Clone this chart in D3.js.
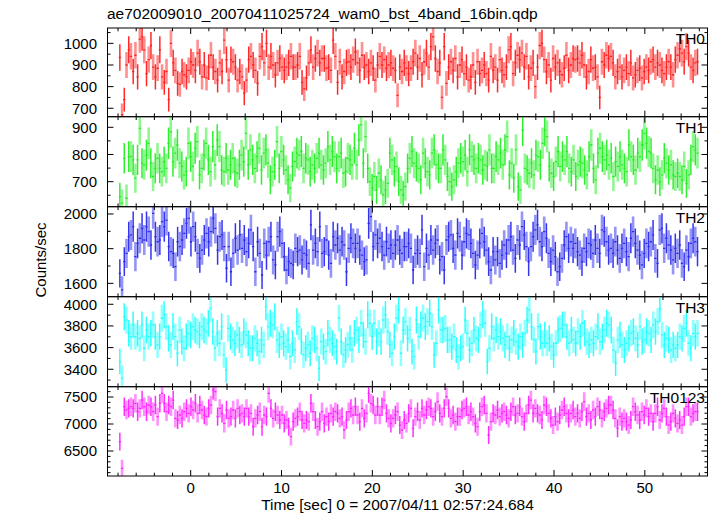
<!DOCTYPE html>
<html><head><meta charset="utf-8">
<script src="https://cdn.jsdelivr.net/npm/d3@7"></script>
<style>
body{margin:0;background:#fff;}
svg{display:block;}
text{font-family:"Liberation Sans",Arial,Helvetica,sans-serif;fill:#000;}
</style>
</head><body>
<svg id="chart" width="717" height="516"></svg>
<script>
const titleText = "ae702009010_20070411025724_wam0_bst_4band_16bin.qdp";
const xLabelText = "Time [sec] 0 = 2007/04/11 02:57:24.684";
const yLabelText = "Counts/sec";
const panelNames = ["TH0","TH1","TH2","TH3","TH0123"];
const panelColors = ["#ff1e1e","#22ee22","#2a2aee","#22ffff","#ff22ff"];
const tFirst = -7.8, tLast = 55.8, binTime = 0.25;
const xTicksMajor = [0,10,20,30,40,50];
const xDomain = [-9.16, 56.9];

const th0 = [935,670,740,900,970,940,870,945,845,1020,1030,970,860,925,990,890,845,885,970,845,820,870,740,1000,910,875,815,810,870,855,845,875,915,900,875,955,915,845,900,840,890,945,890,870,830,910,870,1015,925,830,925,915,890,830,870,845,770,830,925,940,900,875,815,940,985,910,1000,890,940,900,855,910,930,890,875,890,910,940,890,890,900,940,820,790,840,910,970,890,930,955,910,930,930,885,890,875,1015,940,820,915,845,870,910,915,890,925,960,910,875,945,890,900,870,910,885,830,900,940,900,925,885,900,910,885,875,760,890,870,910,885,860,885,915,955,890,
930,855,915,955,890,985,1030,930,870,910,750,985,815,890,915,875,930,845,900,925,860,890,830,845,900,820,915,860,875,900,860,830,940,875,890,830,925,875,855,890,970,985,860,910,945,925,955,890,940,845,885,910,800,890,990,1000,925,870,900,830,930,890,910,870,855,885,945,875,900,930,925,930,910,945,900,845,870,925,885,890,845,750,915,900,945,930,940,910,845,870,890,845,875,890,860,910,840,855,875,885,840,870,890,875,915,925,890,910,900,875,860,890,915,890,855,925,945,975,955,915,985,955,890,875,910,915];

const th1 = [645,621,786,639,792,792,780,713,780,896,768,762,798,841,768,719,749,786,749,737,774,749,841,884,774,805,835,768,756,725,737,841,792,756,823,847,725,749,798,841,780,737,829,762,853,829,743,737,786,743,762,786,737,731,762,798,774,878,762,817,780,749,792,823,743,805,817,768,707,737,762,847,749,811,780,743,707,676,756,774,805,798,811,749,786,780,737,762,749,786,805,762,743,768,829,780,811,792,749,792,805,731,737,786,780,762,823,762,853,909,768,866,749,700,676,719,670,731,707,652,670,694,805,780,737,756,700,670,652,682,749,786,811,768,756,
749,707,805,768,737,725,805,817,762,749,749,817,780,719,700,682,707,737,768,786,774,798,737,817,792,780,749,786,780,743,762,756,817,749,749,792,780,805,762,817,866,725,768,713,817,682,670,890,749,743,731,768,725,798,792,762,841,890,866,756,731,719,774,811,756,792,780,811,749,737,780,719,762,774,768,743,725,792,835,749,707,805,823,792,780,798,762,786,719,774,756,792,762,749,737,835,792,780,743,805,792,835,878,841,811,805,749,707,743,700,725,786,768,743,762,725,719,731,719,707,756,694,725,780,829,817,805];

const th2 = [1658,1562,1725,1773,1869,1879,1927,1754,1831,1860,1917,1850,1927,1898,1821,2004,1869,1840,1850,1956,1927,1965,1812,1783,1773,1696,1840,1812,1850,1888,1946,1975,1840,1927,1869,1773,1744,1792,1850,1888,1840,1898,1975,1917,1792,1869,1879,1812,1687,1812,1667,1773,1860,1792,1879,1802,1850,1783,1831,1908,1812,1667,1840,1773,1648,1831,1763,1840,1869,1735,1706,1869,1898,1831,1754,1677,1725,1715,1706,1802,1783,1792,1735,1773,1763,1715,1937,1792,1831,1783,1927,1773,1783,1850,1763,1715,1869,1821,1860,1792,1840,1821,1667,1802,1860,1831,1802,1831,1792,1763,1725,1735,1946,1985,1812,1879,1831,1860,1812,1763,1840,1802,1821,1773,1821,1850,1792,1773,1812,1812,1831,1802,1677,1773,1792,
1773,1908,1696,1802,1763,1850,1792,1831,1850,1735,1754,1677,1850,1869,1879,1802,1763,1888,1869,1763,1840,1888,1879,1831,1773,1706,1763,1831,1888,1840,1792,1725,1677,1783,1735,1783,1715,1763,1821,1773,1850,1869,1792,1744,1850,1821,1927,1879,1812,1725,1812,1869,1908,1937,1840,1812,1898,1860,1773,1725,1792,1754,1667,1696,1744,1821,1869,1802,1840,1802,1831,1783,1763,1725,1802,1783,1831,1821,1773,1850,1802,1773,1908,1898,1840,1792,1802,1773,1840,1792,1744,1802,1831,1783,1754,1860,1898,1831,1792,1763,1706,1773,1831,1812,1840,1879,1744,1715,1908,1917,1802,1860,1821,1792,1735,1802,1773,1821,1715,1696,1792,1754,1831,1860,1840,1783];

const th3 = [3471,3317,3886,3855,3732,3702,3809,3702,3732,3686,3809,3594,3763,3702,3732,3809,3702,3625,3702,3871,3902,3794,3686,3625,3794,3702,3548,3763,3655,3594,3702,3732,3717,3794,3763,3748,3717,3794,3763,3748,3825,3963,3748,3594,3732,3640,3794,3532,3394,3778,3702,3671,3640,3717,3671,3625,3748,3717,3640,3594,3594,3686,3640,3563,3671,3625,3978,3794,3825,3809,3886,3671,3625,3702,3640,3609,3671,3517,3640,3578,3840,3794,3655,3532,3594,3625,3548,3686,3671,3594,3409,3655,3609,3563,3732,3671,3640,3609,3563,3871,3655,3532,3578,3625,3686,3578,3732,3763,3671,3825,3717,3655,3902,3825,3702,3825,3655,3732,3655,3855,3902,3748,3625,3548,3702,3871,3948,3548,3763,3840,3686,3763,3563,3517,3855,
3702,3809,3871,3794,3840,3917,3794,3532,3640,3948,3763,3763,3778,3671,3671,3609,3702,3578,3517,3594,3609,3855,3732,3578,3640,3763,3686,3671,3809,3902,3825,3471,3594,3794,3686,3763,3702,3748,3686,3625,3702,3594,3671,3732,3655,3609,3702,3625,3732,3855,3948,3794,3671,3563,3794,3702,3640,3717,3640,3686,3609,3532,3640,3763,3778,3809,3809,3702,3640,3763,3671,3640,3748,3702,3825,3732,3655,3625,3671,3640,3702,3794,3655,3702,3763,3825,3809,3763,3578,3455,3671,3717,3625,3578,3640,3686,3732,3748,3686,3625,3794,3655,3671,3748,3732,3671,3809,3748,3840,3963,3717,3625,3686,3671,3578,3625,3594,3625,3702,3686,3778,3825,3640,3594,3732,3702,3732];

const th0123 = [6673,6179,7321,7259,7290,7321,7290,7383,7228,7290,7444,7321,7228,7352,7321,7228,7352,7136,7383,7568,7383,7228,7352,7321,7444,7105,7074,7167,7105,7228,7290,7198,7321,7259,7383,7198,7352,7259,7167,7136,7290,7352,7630,7599,7136,7290,7198,7012,7259,7105,7136,7259,7105,7290,7167,7198,7136,7290,7136,7198,6951,7105,7167,7228,6951,7167,7136,7568,7290,7105,7228,7167,7074,7167,7012,7074,6951,6765,7043,7105,7136,7228,7074,7012,7074,7043,7383,7228,7074,6951,7043,7228,7012,7136,7043,7198,7136,7228,7198,7105,7136,6889,7074,7228,7290,7167,7321,7167,7043,7290,7105,7198,7568,7383,7352,7167,7321,7167,7321,7444,7198,7105,7012,7105,7167,7228,6981,6889,7074,7012,7198,7290,6920,7136,7228,
7074,7290,7167,7259,7321,7290,7136,7228,7414,7198,7136,7290,7506,7290,7105,7167,7043,7136,7136,7259,7290,7321,7167,7228,7136,7012,6951,7228,7321,7352,7198,6796,7043,7198,7167,7259,7136,7198,7228,7167,7105,7228,7321,7167,7198,7321,7136,7043,7198,7352,7444,7198,7290,7198,7167,7074,7352,7321,7198,7105,6981,7136,7043,7167,7259,7321,7198,7105,7198,7259,7136,7198,7105,7228,7414,7136,7198,7074,7259,7136,7321,7259,7105,7228,7290,7352,7352,7259,7105,6920,7136,7043,7105,7043,6981,7074,7321,7228,7167,7074,7228,7167,7290,7136,7198,7043,7198,7321,7074,7198,7290,7136,6981,7043,7198,7105,7012,7074,6981,7136,7321,7321,7136,7198,7228,7228];

const seriesValues = [th0, th1, th2, th3, th0123];
const yDomains = [[661,1071],[608,939],[1523,2042],[3239,4070],[6037,7691]];
const yTicksMajor = [[700,800,900,1000],[700,800,900],[1600,1800,2000],[3400,3600,3800,4000],[6500,7000,7500]];
const yMinorStep = [50,50,100,100,100];

const svg = d3.select("#chart");
const left = 107.5, right = 707.5;
const panelTops = [28, 116.7, 206.7, 296.7, 386.7, 476];

const x = d3.scaleLinear().domain(xDomain).range([left, right]);

svg.append("text").attr("x", 107).attr("y", 19).attr("font-size", 15.5).text(titleText);

const defs = svg.append("defs");

seriesValues.forEach((vals, p) => {
  const top = panelTops[p], bot = panelTops[p+1];
  const y = d3.scaleLinear().domain(yDomains[p]).range([bot, top]);
  const n = vals.length;
  const dt = (tLast - tFirst) / (n - 1);
  const pts = vals.map((v, i) => ({t: tFirst + i*dt, v: v, e: Math.sqrt(v*binTime)/binTime, i: i}));

  defs.append("clipPath").attr("id", "clip"+p).append("rect")
    .attr("x", left).attr("y", top).attr("width", right-left).attr("height", bot-top);

  const g = svg.append("g").attr("clip-path", "url(#clip"+p+")");
  const col = panelColors[p];
  g.selectAll("line.eb").data(pts).enter().append("line")
    .attr("x1", d => x(d.t)).attr("x2", d => x(d.t))
    .attr("y1", d => y(d.v - d.e)).attr("y2", d => y(d.v + d.e))
    .attr("stroke", col)
    .attr("stroke-width", d => d.i % 2 ? 2.6 : 1.5)
    .attr("stroke-opacity", d => d.i % 2 ? 0.5 : 0.95);
  g.selectAll("line.h").data(pts).enter().append("line")
    .attr("x1", d => x(d.t - dt/2)).attr("x2", d => x(d.t + dt/2))
    .attr("y1", d => y(d.v)).attr("y2", d => y(d.v))
    .attr("stroke", col).attr("stroke-width", 1.3);

  svg.append("rect").attr("x", left).attr("y", top).attr("width", right-left).attr("height", bot-top)
    .attr("fill", "none").attr("stroke", "#000").attr("stroke-width", 1);

  const dom = yDomains[p];
  const minor = d3.range(Math.ceil(dom[0]/yMinorStep[p])*yMinorStep[p], dom[1], yMinorStep[p]);
  const tg = svg.append("g").attr("stroke", "#000").attr("stroke-width", 1);
  minor.forEach(v => {
    const major = yTicksMajor[p].includes(v);
    const len = major ? 6 : 3;
    tg.append("line").attr("x1", left).attr("x2", left+len).attr("y1", y(v)).attr("y2", y(v));
    tg.append("line").attr("x1", right).attr("x2", right-len).attr("y1", y(v)).attr("y2", y(v));
  });
  yTicksMajor[p].forEach(v => {
    svg.append("text").attr("x", 97).attr("y", y(v)).attr("dy", "0.36em")
      .attr("text-anchor", "end").attr("font-size", 15).text(v);
  });
  d3.range(-8, 57, 2).forEach(t => {
    const major = t % 10 === 0;
    const len = major ? 6 : 3.3;
    tg.append("line").attr("x1", x(t)).attr("x2", x(t)).attr("y1", bot).attr("y2", bot-len);
    tg.append("line").attr("x1", x(t)).attr("x2", x(t)).attr("y1", top).attr("y2", top+len);
  });
  svg.append("text").attr("x", 705).attr("y", top + 16).attr("text-anchor", "end")
    .attr("font-size", 15.5).text(panelNames[p]);
});

xTicksMajor.forEach(t => {
  svg.append("text").attr("x", x(t)).attr("y", 493).attr("text-anchor", "middle")
    .attr("font-size", 15).text(t);
});
svg.append("text").attr("x", 397.5).attr("y", 510).attr("text-anchor", "middle")
  .attr("font-size", 15.5).text(xLabelText);
svg.append("text").attr("transform", "translate(46,260) rotate(-90)")
  .attr("text-anchor", "middle").attr("font-size", 15).text(yLabelText);
</script>
</body></html>
